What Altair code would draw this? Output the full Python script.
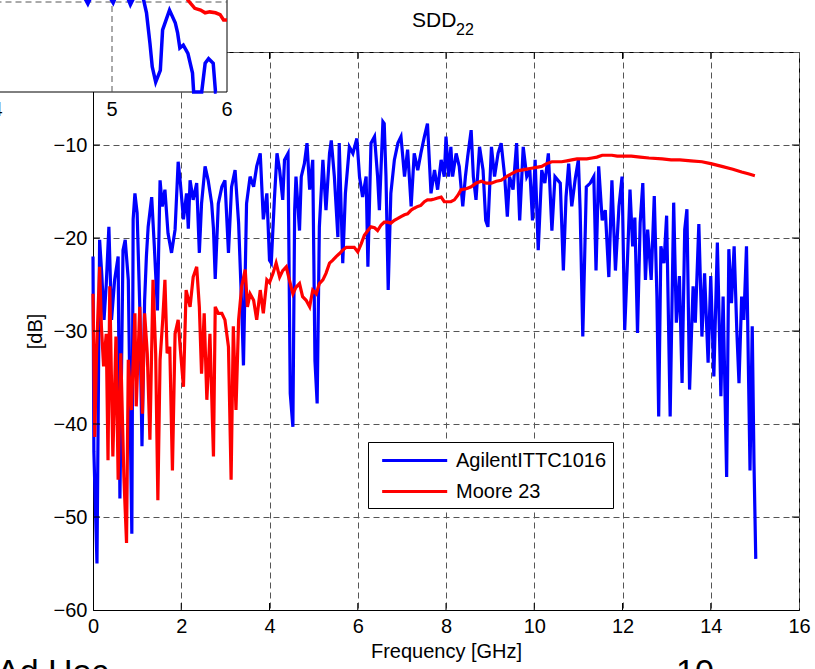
import altair as alt
import pandas as pd

FONT = "Liberation Sans"

# ---------------- main chart data ----------------
blue_f = [0.00, 0.02, 0.09, 0.15, 0.20, 0.25, 0.30, 0.36, 0.42, 0.49, 0.57, 0.61, 0.68, 0.73, 0.80, 0.88, 0.91, 0.95,
          1.00, 1.06, 1.11, 1.17, 1.21, 1.25, 1.33, 1.39, 1.46, 1.52, 1.57, 1.63, 1.70, 1.78, 1.86, 1.93, 1.98,
          2.05, 2.12, 2.16, 2.20, 2.27, 2.35, 2.41, 2.46, 2.54, 2.61, 2.69, 2.73, 2.77, 2.84, 2.92, 2.99,
          3.07, 3.14, 3.22, 3.30, 3.37, 3.41, 3.48, 3.56, 3.64, 3.71, 3.79, 3.86, 3.94, 4.00,
          4.04, 4.11, 4.17, 4.23, 4.30, 4.34, 4.42, 4.47, 4.53, 4.57, 4.60, 4.68, 4.72, 4.79, 4.85, 4.91, 4.98,
          5.03, 5.08, 5.13, 5.21, 5.28, 5.36, 5.40, 5.47, 5.55, 5.58, 5.66, 5.72, 5.81, 5.89, 5.98,
          6.04, 6.11, 6.19, 6.23, 6.30, 6.38, 6.45, 6.49, 6.57, 6.60, 6.64, 6.69, 6.75, 6.83, 6.91, 6.98,
          7.06, 7.13, 7.21, 7.28, 7.36, 7.43, 7.51, 7.58, 7.66, 7.74, 7.81, 7.89, 7.96,
          8.00, 8.06, 8.11, 8.15, 8.23, 8.30, 8.38, 8.44, 8.49, 8.57, 8.62, 8.68, 8.76, 8.84, 8.90, 8.95,
          9.03, 9.10, 9.18, 9.25, 9.33, 9.39, 9.44, 9.52, 9.60, 9.67, 9.75, 9.83, 9.90, 9.96,
          10.02, 10.09, 10.17, 10.24, 10.32, 10.40, 10.47, 10.59, 10.66, 10.72, 10.78, 10.85, 10.93,
          11.00, 11.04, 11.10, 11.18, 11.27, 11.35, 11.40, 11.46, 11.54, 11.61, 11.69, 11.76, 11.84, 11.92, 11.99,
          12.05, 12.11, 12.17, 12.23, 12.28, 12.34, 12.40, 12.46, 12.52, 12.57, 12.65, 12.72, 12.78, 12.82,
          12.87, 12.94, 13.00, 13.08, 13.16, 13.22, 13.29, 13.35, 13.41, 13.46, 13.52, 13.60, 13.65, 13.73,
          13.80, 13.86, 13.94, 14.00, 14.07, 14.15, 14.23, 14.28, 14.36, 14.41, 14.47, 14.53, 14.59, 14.64,
          14.70, 14.75, 14.81, 14.89, 14.94, 14.98, 15.02]
blue_db = [-22, -43, -55, -20.2, -24, -28.8, -25, -18.8, -28.8, -24.5, -22, -48, -21.3, -20.2, -24.5, -51.8, -18, -15.2,
           -17.3, -27.4, -42.4, -26.7, -22, -18.8, -15.6, -20.9, -27.8, -13.8, -16.6, -14.8, -19.5, -21.6, -19.1, -11.8, -14.1,
           -18, -15.2, -19, -13.8, -15.9, -14.1, -21.6, -16.3, -12.3, -13.8, -16.3, -19, -24.4, -16.3, -14.5, -13.8,
           -21.6, -14.5, -12.7, -18.4, -27.4, -33.7, -16.3, -13.4, -14.5, -12.3, -10.9, -18, -15.2, -22.4,
           -22.7, -15.9, -10.9, -12.7, -15.9, -11.6, -10.9, -36.7, -40.3, -17, -13.4, -19.2, -13.4, -12, -9.8, -14.8, -11.6,
           -33.2, -37.8, -18.8, -11.6, -17, -10.9, -9.5, -13.4, -19.9, -9.8, -22.7, -15.2, -10.2, -10.9, -9.3,
           -13.4, -15.6, -13.4, -23.1, -9.8, -9.1, -13.4, -17, -7.5, -7.7, -13.4, -25.6, -15.2, -11.6, -9.8, -9.1,
           -13.4, -10.5, -16.6, -10.9, -12.7, -10.9, -9.1, -7.7, -15.2, -12.7, -14.8, -11.6, -13.4,
           -9.1, -13.4, -10.2, -13.4, -10.9, -12.3, -16.6, -13.4, -11.3, -8.4, -13.4, -15.9, -10.2, -12.7, -18.1, -18.8,
           -10.2, -13.4, -10.9, -9.8, -13.4, -17.7, -13.4, -14.8, -9.8, -18.1, -10.2, -13.4, -12.7, -18.1,
           -11.6, -21.3, -12.7, -14.1, -10.9, -19.2, -13.4, -14.1, -23.5, -15.6, -12, -16.6, -13.6,
           -11.6, -17, -30.6, -14.5, -14.1, -13.4, -23.5, -12.3, -18.1, -17, -24.2, -13.8, -23.5, -16.6, -13.4,
           -29.9, -22.7, -14.8, -20.9, -17.8, -30.2, -18.4, -14.1, -24.5, -19.1, -24.5, -15.5, -26.3, -39.2,
           -20.9, -22.7, -17.6, -39.2, -16.2, -29.1, -24.1, -35.6, -19.1, -16.9, -36.3, -25.2, -29.1, -18.5,
           -30.6, -23.8, -33.4, -24.1, -34.9, -20.5, -37, -26.3, -45.7, -21.2, -27, -20.9, -29.9, -35.6,
           -26.3, -28.8, -20.9, -45, -29.5, -44.2, -54.5]

red_f = [0.00, 0.04, 0.08, 0.15, 0.19, 0.24, 0.30, 0.34, 0.38, 0.45, 0.52, 0.57, 0.63, 0.70, 0.76, 0.80, 0.87, 0.95, 0.98,
         1.06, 1.12, 1.17, 1.23, 1.29, 1.36, 1.42, 1.47, 1.52, 1.58, 1.63, 1.68, 1.74, 1.80, 1.86, 1.93, 1.98,
         2.05, 2.11, 2.20, 2.27, 2.35, 2.41, 2.46, 2.52, 2.58, 2.65, 2.73, 2.77, 2.84, 2.92, 2.99,
         3.07, 3.13, 3.18, 3.24, 3.30, 3.37, 3.45, 3.50, 3.56, 3.64, 3.71, 3.79, 3.86, 3.94,
         4.00, 4.08, 4.15, 4.23, 4.30, 4.38, 4.45, 4.53, 4.60, 4.68, 4.75, 4.83, 4.91, 4.98,
         5.06, 5.13, 5.21, 5.28, 5.36, 5.43, 5.51, 5.58, 5.66, 5.74, 5.85, 5.92,
         6.00, 6.08, 6.15, 6.23, 6.30, 6.38, 6.45, 6.53, 6.60, 6.68, 6.75, 6.83, 6.91, 6.98,
         7.06, 7.13, 7.21, 7.28, 7.36, 7.43, 7.51, 7.58, 7.66, 7.74, 7.81, 7.89, 7.96,
         8.11, 8.19, 8.27, 8.34, 8.46, 8.57, 8.68, 8.80, 8.91, 9.03, 9.14, 9.25, 9.37, 9.48, 9.60, 9.71, 9.83, 9.94,
         10.05, 10.17, 10.28, 10.40, 10.51, 10.62, 10.74, 10.85, 10.97, 11.08, 11.19, 11.31, 11.42, 11.54, 11.65,
         11.76, 11.88, 12.00, 12.2, 12.4, 12.6, 12.9, 13.1, 13.3, 13.55, 13.8, 14.0, 14.25, 14.5, 14.7, 14.85, 15.0]
red_db = [-26, -41.4, -32.4, -23.1, -29.5, -33.8, -30.3, -43.9, -25.2, -43.5, -30.6, -46, -32.4, -45.7, -52.8, -33.1, -38.5, -28.1, -38.1,
          -27.4, -38.9, -28.1, -32.4, -41.7, -24.5, -32.4, -48.2, -33.1, -28.8, -24.5, -32.4, -31.7, -45, -30.3, -28.8, -32,
          -36, -25.6, -27.4, -24.2, -23.1, -27.4, -34.6, -28.1, -37.4, -30.3, -43.5, -27.4, -28.1, -28.1, -28.8,
          -31.7, -46, -29.5, -38.5, -28.8, -25.2, -23.4, -27.4, -26, -26.7, -28.8, -25.6, -28.1, -24.5,
          -24.8, -23.8, -22.7, -24.2, -23.5, -23.1, -24.5, -26, -25.3, -24.9, -26.3, -26.7, -27.4, -25.6,
          -26, -24.9, -24.5, -23.8, -22.7, -22.4, -22, -21.7, -21.3, -21, -21, -21,
          -21.5, -20.6, -19.7, -19.2, -18.8, -18.9, -19.2, -18.6, -18.3, -18.3, -18.4, -18.1, -17.9, -17.7,
          -17.5, -17.4, -17, -16.8, -16.6, -16.5, -16.1, -15.9, -15.9, -15.8, -15.7, -15.6, -16.1,
          -16.1, -15.9, -15.4, -14.8, -14.7, -14.5, -14.1, -13.9, -14.1, -14.1, -13.9, -13.8, -13.4, -13.1, -12.8, -12.7, -12.6, -12.5,
          -12.4, -12.3, -12, -11.8, -11.8, -11.8, -11.7, -11.6, -11.5, -11.5, -11.5, -11.4, -11.3, -11.1, -11.1,
          -11.1, -11.2, -11.2, -11.2, -11.3, -11.4, -11.5, -11.6, -11.6, -11.7, -11.8, -12.0, -12.3, -12.6, -12.9, -13.1, -13.3]

series_names = ["AgilentITTC1016", "Moore 23"]
series_colors = ["#0000FF", "#FF0000"]
x_ticks = [0, 2, 4, 6, 8, 10, 12, 14, 16]
y_ticks = [-60, -50, -40, -30, -20, -10, 0]
x_range = [0, 16]
y_range = [-60, 0]

# ---------------- inset (zoomed 4-6 GHz view, partly cut off) ----------------
inset_blue_f = [4.60, 4.72, 4.79, 4.85, 4.95, 5.01, 5.06, 5.12, 5.16, 5.21, 5.27, 5.30, 5.33, 5.35, 5.38, 5.42,
                5.44, 5.50, 5.55, 5.57, 5.59, 5.62, 5.66, 5.70, 5.71, 5.73, 5.78, 5.81, 5.84, 5.88, 5.90, 5.91]
inset_blue_db = [-17, -18.5, -20.2, -18.5, -18.8, -20.1, -18.5, -19, -20.3, -19, -19.5, -21.2, -24.6, -27.2, -28.9, -27.6,
                 -23.1, -20.9, -22.3, -23.4, -25.1, -24.8, -25.7, -27.9, -30.1, -32, -30.1, -26.8, -26.3, -26.8, -30.1, -32]
inset_red_f = [5.62, 5.66, 5.72, 5.77, 5.81, 5.85, 5.90, 5.94, 5.97, 6.0]
inset_red_db = [-18.5, -19.8, -20.7, -20.9, -21.2, -21.1, -21.2, -21.4, -22, -22]
inset_ticks = [4, 5, 6]
inset_box_f = [3.9, 6.0]
inset_box_db = [-30, -18]
inset_grid_f = [5]
inset_grid_db = [-20]

# style constants
grid_color = "#555555"
dash = [6, 4]
tick_len_x = 0.16   # inward tick length in GHz
tick_len_y = 0.75   # inward tick length in dB

main_df = pd.concat([
    pd.DataFrame({"f": blue_f, "db": blue_db, "series": series_names[0]}),
    pd.DataFrame({"f": red_f, "db": red_db, "series": series_names[1]}),
])

x_axis = alt.Axis(values=x_ticks, format="d", title="Frequency [GHz]", grid=True,
                  gridDash=dash, gridColor=grid_color, gridOpacity=1, tickSize=0,
                  labelPadding=6, labelFontSize=20, titleFontSize=20, titleFontWeight="normal",
                  titlePadding=5, domainColor="black", labelColor="black", titleColor="black",
                  labelFont=FONT, titleFont=FONT, labelFlush=False, labelOverlap=False, zindex=0)
y_axis = alt.Axis(values=y_ticks, format="d", title="[dB]", grid=True,
                  gridDash=dash, gridColor=grid_color, gridOpacity=1, tickSize=0,
                  labelPadding=6, labelFontSize=20, titleFontSize=20, titleFontWeight="normal",
                  titlePadding=8, domainColor="black", labelColor="black", titleColor="black",
                  labelFont=FONT, titleFont=FONT, labelFlush=False, labelOverlap=False, zindex=0)
mx = alt.Scale(domain=x_range, nice=False)
my = alt.Scale(domain=y_range, nice=False)

lines = alt.Chart(main_df).mark_line(strokeWidth=3.2).encode(
    x=alt.X("f:Q", scale=mx, axis=x_axis),
    y=alt.Y("db:Q", scale=my, axis=y_axis),
    color=alt.Color("series:N", title=None,
                    scale=alt.Scale(domain=series_names, range=series_colors),
                    legend=alt.Legend(orient="none", legendX=275, legendY=390,
                                      symbolType="M-0.4,0L5.6,0", symbolSize=470, symbolStrokeWidth=3,
                                      labelFontSize=20, labelFont=FONT, labelColor="black", labelOffset=57,
                                      padding=6, rowPadding=8, fillColor="white", strokeColor="black",
                                      labelLimit=400)),
)

# inward MATLAB-style ticks on all four sides of the box
inner_x = x_ticks[1:-1]
inner_y = y_ticks[1:-1]
ticks_df = pd.concat([
    pd.DataFrame({"x": inner_x, "x2": inner_x, "y": y_range[0], "y2": y_range[0] + tick_len_y}),
    pd.DataFrame({"x": inner_x, "x2": inner_x, "y": y_range[1], "y2": y_range[1] - tick_len_y}),
    pd.DataFrame({"x": x_range[0], "x2": x_range[0] + tick_len_x, "y": inner_y, "y2": inner_y}),
    pd.DataFrame({"x": x_range[1], "x2": x_range[1] - tick_len_x, "y": inner_y, "y2": inner_y}),
])
ticks = alt.Chart(ticks_df).mark_rule(stroke="black", strokeWidth=1).encode(
    x=alt.X("x:Q", scale=mx, axis=x_axis), x2="x2:Q",
    y=alt.Y("y:Q", scale=my, axis=y_axis), y2="y2:Q")

main = alt.layer(lines, ticks)

# inset: its own scales, mapped onto the top-left corner of the page
xs = alt.Scale(domain=[4, 6], range=[-96, 134], nice=False)
ys = alt.Scale(domain=[-30, -18], range=[40, -68], clamp=True, nice=False)

box_df = pd.DataFrame({"f0": [inset_box_f[0]], "f1": [inset_box_f[1]],
                       "d0": [inset_box_db[0]], "d1": [inset_box_db[1]]})
box = alt.Chart(box_df).mark_rect(fill="white", stroke="black", strokeWidth=1).encode(
    x=alt.X("f0:Q", scale=xs, axis=None), x2="f1:Q",
    y=alt.Y("d0:Q", scale=ys, axis=None), y2="d1:Q")

vgrid_df = pd.DataFrame({"f": inset_grid_f, "d0": [inset_box_db[0]], "d1": [inset_box_db[1]]})
vgrid = alt.Chart(vgrid_df).mark_rule(stroke=grid_color, strokeDash=dash, strokeWidth=1).encode(
    x=alt.X("f:Q", scale=xs, axis=None), y=alt.Y("d0:Q", scale=ys, axis=None), y2="d1:Q")

hgrid_df = pd.DataFrame({"d": inset_grid_db, "f0": [inset_box_f[0]], "f1": [inset_box_f[1]]})
hgrid = alt.Chart(hgrid_df).mark_rule(stroke=grid_color, strokeDash=dash, strokeWidth=1).encode(
    x=alt.X("f0:Q", scale=xs, axis=None), x2="f1:Q", y=alt.Y("d:Q", scale=ys, axis=None))

ib = alt.Chart(pd.DataFrame({"f": inset_blue_f, "db": inset_blue_db})).mark_line(
    stroke=series_colors[0], strokeWidth=3.5).encode(
    x=alt.X("f:Q", scale=xs, axis=None), y=alt.Y("db:Q", scale=ys, axis=None))
ir = alt.Chart(pd.DataFrame({"f": inset_red_f, "db": inset_red_db})).mark_line(
    stroke=series_colors[1], strokeWidth=3.5).encode(
    x=alt.X("f:Q", scale=xs, axis=None), y=alt.Y("db:Q", scale=ys, axis=None))

inset_lbl_df = pd.DataFrame({"f": inset_ticks, "d": inset_box_db[0], "t": [str(v) for v in inset_ticks]})
inset_labels = alt.Chart(inset_lbl_df).mark_text(
    font=FONT, fontSize=20, color="black", align="center", baseline="middle", dy=18).encode(
    x=alt.X("f:Q", scale=xs, axis=None), y=alt.Y("d:Q", scale=ys, axis=None), text="t:N")

inset = alt.layer(box, vgrid, hgrid, ib, ir, inset_labels)

# ---------------- texts ----------------
def label(txt, x, y, size, align="left"):
    return alt.Chart(pd.DataFrame({"t": [txt]})).mark_text(
        font=FONT, fontSize=size, color="black", align=align, baseline="alphabetic").encode(
        x=alt.value(x), y=alt.value(y), text="t:N")

title_main = label("SDD", 319, -25, 21)
title_sub = label("22", 363, -17, 16)
adhoc = label("Ad Hoc", -96, 631, 34)
page_no = label("10", 583, 631, 34)

chart = alt.layer(main, inset, title_main, title_sub, adhoc, page_no).resolve_scale(
    x="independent", y="independent"
).properties(
    width=706, height=558,
    autosize=alt.AutoSizeParams(type="none"),
    padding={"left": 93, "top": 52, "right": 16, "bottom": 59},
).configure(font=FONT).configure_view(stroke="black", strokeWidth=1)

chart.save("out.html", embed_options={"renderer": "svg", "actions": False})
